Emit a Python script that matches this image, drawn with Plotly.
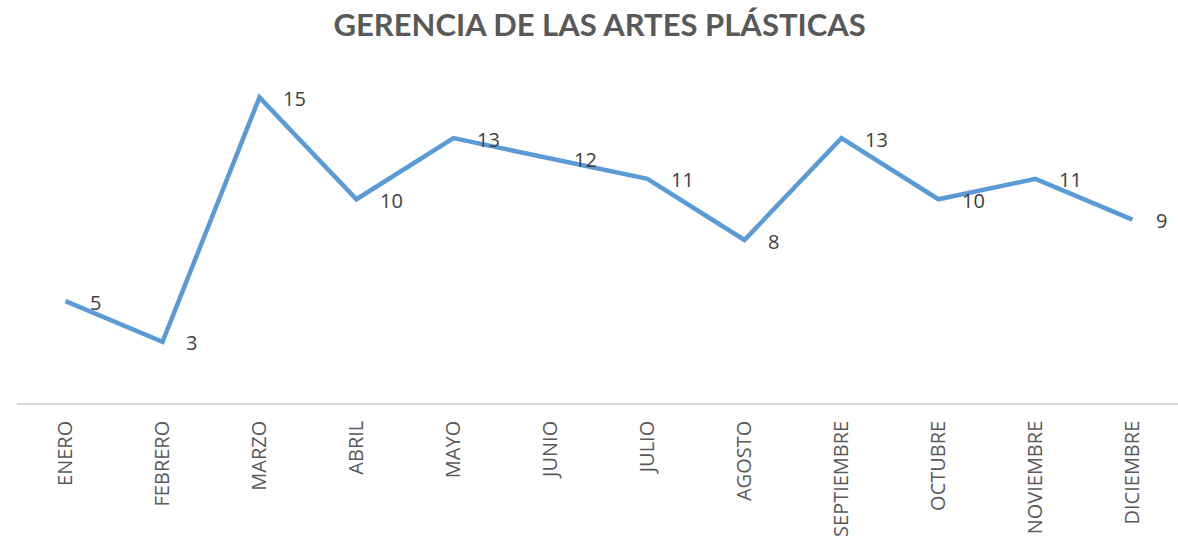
import plotly.graph_objects as go

meses = ["ENERO", "FEBRERO", "MARZO", "ABRIL", "MAYO", "JUNIO", "JULIO",
         "AGOSTO", "SEPTIEMBRE", "OCTUBRE", "NOVIEMBRE", "DICIEMBRE"]
valores = [5, 3, 15, 10, 13, 12, 11, 8, 13, 10, 11, 9]
titulo = "GERENCIA DE LAS ARTES PLÁSTICAS"

fig = go.Figure()
fig.add_trace(go.Scatter(
    x=meses, y=valores, mode="lines",
    line=dict(color="#5B9BD5", width=4.5),
    hoverinfo="x+y",
))

for m, v in zip(meses, valores):
    fig.add_annotation(
        x=m, y=v, text=str(v), showarrow=False,
        xanchor="left", yanchor="middle", xshift=22, yshift=-1,
        font=dict(family="Open Sans", size=20, color="#404040"),
    )

fig.update_layout(
    width=1178, height=543,
    margin=dict(l=17, r=0, t=77, b=140, autoexpand=False),
    paper_bgcolor="white", plot_bgcolor="white",
    showlegend=False,
    title=dict(
        text=titulo, x=0.509, xanchor="center", y=0.974, yanchor="top",
        font=dict(family="Lato", size=31, color="#595959", weight="bold"),
    ),
    xaxis=dict(
        type="category", range=[-0.5, 11.47], automargin=False,
        showline=True, linecolor="#D9D9D9", linewidth=1.5,
        showgrid=False, zeroline=False,
        tickangle=-90, ticks="outside", ticklen=8, tickcolor="white",
        tickfont=dict(family="Open Sans", size=20, color="#595959"),
    ),
    yaxis=dict(
        range=[0, 16], visible=False, showgrid=False, zeroline=False,
        automargin=False,
    ),
)

fig.write_html(
    "out.html",
    config={"displayModeBar": False},
    post_script="document.body.style.margin='0';document.body.style.overflow='hidden';",
)
